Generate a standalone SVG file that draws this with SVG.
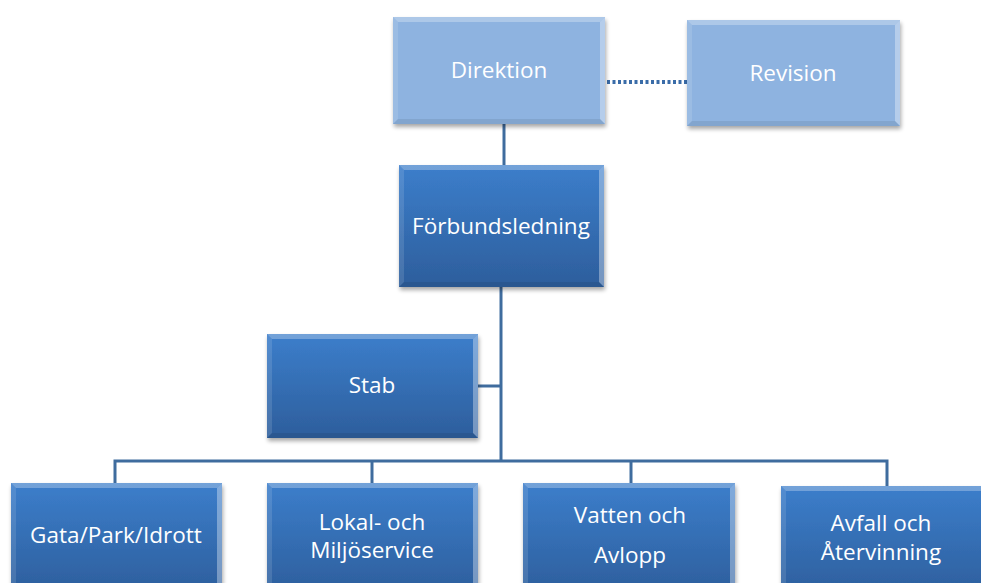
<svg xmlns="http://www.w3.org/2000/svg" width="981" height="583" viewBox="0 0 981 583">
<defs>
<linearGradient id="dk" x1="0" y1="0" x2="0" y2="1">
<stop offset="0" stop-color="#3C7ECB"/>
<stop offset="1" stop-color="#2D5E9C"/>
</linearGradient>
<filter id="sh" x="-10%" y="-10%" width="120%" height="130%">
<feGaussianBlur in="SourceAlpha" stdDeviation="2"/>
<feOffset dx="1" dy="3" result="b"/>
<feComponentTransfer><feFuncA type="linear" slope="0.35"/></feComponentTransfer>
<feMerge><feMergeNode/><feMergeNode in="SourceGraphic"/></feMerge>
</filter>
</defs>
<style>
.dark{fill:url(#dk);filter:url(#sh)}
.light{fill:#8EB3E0;filter:url(#sh)}
.top{fill:#ffffff;opacity:0.28}
.side{fill:#ffffff;opacity:0.35}
.lside{fill:#ffffff;opacity:0.12}
.bot{fill:#000000;opacity:0.08}
text{font-family:"Open Sans","Liberation Sans",sans-serif;font-size:22.5px;fill:#ffffff;text-anchor:middle}
.con{stroke:#3F6C9E;stroke-width:3;fill:none}
.dot{stroke:#3A6CA8;stroke-width:4;stroke-dasharray:3 2.5;fill:none}
</style>
<rect width="981" height="583" fill="#ffffff"/>
<g id="connectors">
<line class="con" x1="504" y1="124" x2="504" y2="166"/>
<line class="dot" x1="607" y1="82" x2="689" y2="82"/>
<line class="con" x1="501" y1="287" x2="501" y2="462"/>
<line class="con" x1="478" y1="386" x2="501" y2="386"/>
<polyline class="con" points="115,484 115,461 887,461 887,487"/>
<line class="con" x1="372" y1="461" x2="372" y2="484"/>
<line class="con" x1="631" y1="461" x2="631" y2="484"/>
</g>
<g id="direktion">
<rect class="light" x="393" y="17" width="212" height="107"/>
<polygon class="top" points="393,17 605,17 600,22 398,22"/>
<polygon class="side" points="605,17 605,124 600,119 600,22"/>
<polygon class="lside" points="393,17 398,22 398,119 393,124"/>
<polygon class="bot" points="393,124 605,124 600,119 398,119"/>
<text x="499" y="78">Direktion</text>
</g>
<g id="revision">
<rect class="light" x="687" y="20" width="213" height="106"/>
<polygon class="top" points="687,20 900,20 895,25 692,25"/>
<polygon class="side" points="900,20 900,126 895,121 895,25"/>
<polygon class="lside" points="687,20 692,25 692,121 687,126"/>
<polygon class="bot" points="687,126 900,126 895,121 692,121"/>
<text x="793" y="81">Revision</text>
</g>
<g id="forbundsledning">
<rect class="dark" x="399" y="165" width="205" height="122"/>
<polygon class="top" points="399,165 604,165 599,170 404,170"/>
<polygon class="side" points="604,165 604,287 599,282 599,170"/>
<polygon class="lside" points="399,165 404,170 404,282 399,287"/>
<polygon class="bot" points="399,287 604,287 599,282 404,282"/>
<text x="501" y="234">Förbundsledning</text>
</g>
<g id="stab">
<rect class="dark" x="267" y="334" width="211" height="104"/>
<polygon class="top" points="267,334 478,334 473,339 272,339"/>
<polygon class="side" points="478,334 478,438 473,433 473,339"/>
<polygon class="lside" points="267,334 272,339 272,433 267,438"/>
<polygon class="bot" points="267,438 478,438 473,433 272,433"/>
<text x="372" y="393">Stab</text>
</g>
<g id="gata">
<rect class="dark" x="11" y="483" width="211" height="112"/>
<polygon class="top" points="11,483 222,483 217,488 16,488"/>
<polygon class="side" points="222,483 222,595 217,590 217,488"/>
<polygon class="lside" points="11,483 16,488 16,590 11,595"/>
<text x="116" y="543">Gata/Park/Idrott</text>
</g>
<g id="lokal">
<rect class="dark" x="267" y="483" width="211" height="112"/>
<polygon class="top" points="267,483 478,483 473,488 272,488"/>
<polygon class="side" points="478,483 478,595 473,590 473,488"/>
<polygon class="lside" points="267,483 272,488 272,590 267,595"/>
<text x="372" y="530">Lokal- och</text>
<text x="372" y="558">Miljöservice</text>
</g>
<g id="vatten">
<rect class="dark" x="523" y="483" width="212" height="112"/>
<polygon class="top" points="523,483 735,483 730,488 528,488"/>
<polygon class="side" points="735,483 735,595 730,590 730,488"/>
<polygon class="lside" points="523,483 528,488 528,590 523,595"/>
<text x="630" y="523">Vatten och</text>
<text x="630" y="563">Avlopp</text>
</g>
<g id="avfall">
<rect class="dark" x="781" y="486" width="212" height="112"/>
<polygon class="top" points="781,486 993,486 988,491 786,491"/>
<polygon class="lside" points="781,486 786,491 786,593 781,598"/>
<text x="881" y="531">Avfall och</text>
<text x="881" y="560">Återvinning</text>
</g>
</svg>
